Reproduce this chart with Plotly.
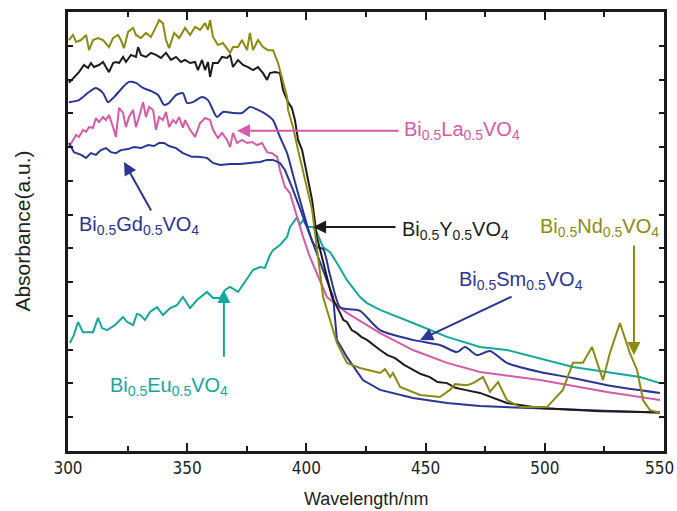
import plotly.graph_objects as go

# ---------------- data (wavelength nm, absorbance a.u.) ----------------
nd_x = [300.4, 302.1, 303.4, 305.5, 307.6, 308.8, 310.5, 312.6, 314.7, 315.9, 317.2, 318.9, 321.0, 322.2, 323.5,
        325.2, 327.3, 328.5, 330.6, 332.7, 334.8, 336.9, 338.2, 339.8, 341.1, 342.4, 344.5, 346.6, 349.1, 351.2,
        353.3, 355.4, 357.5, 358.7, 359.6, 360.8, 362.9, 365.0, 368.0, 369.2, 371.3, 373.0, 375.1, 376.3, 377.6,
        379.7, 381.8, 383.9, 386.0, 388.1, 390.2, 391.9, 392.3, 394.4, 396.5, 402.4, 407.0, 412.8, 417.0, 422.5,
        430.9, 433.0, 435.1, 436.3, 439.3, 447.7, 456.0, 460.2, 462.3, 467.4, 469.9, 474.1, 477.0, 480.4, 484.1,
        489.6, 500.9, 507.6, 511.8, 516.0, 519.8, 524.4, 527.3, 531.5, 535.7, 538.7, 541.2, 544.1, 548.3]
nd_y = [12.17, 12.32, 12.11, 12.17, 12.32, 11.87, 12.17, 12.23, 12.17, 12.08, 11.96, 12.23, 12.32, 12.17, 11.93,
        12.41, 12.53, 12.32, 12.23, 12.38, 12.26, 12.56, 12.76, 12.67, 12.17, 11.93, 12.38, 12.23, 12.53, 12.32,
        12.56, 12.47, 12.67, 12.47, 12.76, 12.26, 12.02, 12.08, 11.79, 11.96, 11.96, 12.17, 11.87, 12.38, 11.87,
        12.17, 11.96, 11.87, 11.87, 11.49, 10.90, 10.48, 10.10, 9.59, 8.91, 7.14, 4.56, 3.20, 2.61, 2.46,
        2.31, 2.43, 2.19, 2.31, 1.90, 1.66, 1.60, 1.81, 1.98, 1.95, 2.01, 2.19, 1.75, 2.04, 1.51,
        1.30, 1.30, 1.81, 2.61, 2.61, 3.08, 2.10, 2.90, 3.79, 2.90, 2.40, 1.51, 1.21, 1.13]

y_x = [300.4, 302.5, 304.6, 306.7, 308.4, 309.6, 310.9, 313.0, 314.7, 315.9, 317.2, 318.9, 320.1, 321.4, 323.1,
       324.3, 326.4, 328.5, 329.4, 330.6, 332.7, 334.8, 336.9, 339.0, 341.1, 343.2, 345.3, 347.4, 349.1, 351.2,
       353.3, 354.5, 356.2, 357.5, 358.7, 359.6, 360.8, 362.9, 364.6, 366.7, 368.0, 369.2, 371.3, 373.4, 375.5,
       377.6, 379.7, 381.8, 383.5, 384.7, 386.8, 388.9, 390.2, 392.3, 393.9, 395.2, 396.5, 398.2, 402.4, 404.4,
       410.7, 414.1, 415.5, 417.0, 419.0, 421.2, 423.0, 425.4, 428.0, 430.9, 434.0, 437.2, 441.0, 444.7, 448.0,
       451.8, 455.0, 459.0, 462.5, 466.5, 472.8, 484.1, 498.0, 523.2, 548.3]
y_y = [10.90, 11.05, 11.22, 11.43, 11.34, 11.49, 11.37, 11.43, 11.52, 11.37, 11.22, 11.49, 11.52, 11.49, 11.67,
       11.52, 11.73, 11.67, 11.96, 11.73, 11.67, 11.79, 11.73, 11.64, 11.79, 11.58, 11.67, 11.52, 11.58, 11.49,
       11.52, 11.28, 11.58, 11.28, 11.52, 11.08, 11.49, 11.49, 11.67, 11.64, 11.73, 11.37, 11.58, 11.43, 11.37,
       11.28, 11.37, 11.19, 10.99, 11.19, 11.22, 11.19, 10.69, 10.33, 10.16, 9.80, 9.21, 8.91, 7.43, 6.34,
       4.56, 4.09, 3.88, 3.82, 3.58, 3.49, 3.38, 3.29, 3.14, 2.99, 2.84, 2.75, 2.55, 2.40, 2.28,
       2.19, 2.04, 2.01, 1.87, 1.81, 1.72, 1.42, 1.27, 1.18, 1.15]

sm_x = [300.4, 304.6, 308.8, 311.7, 314.7, 316.8, 319.3, 323.1, 325.6, 328.5, 331.5, 334.8, 337.8, 340.3, 342.4,
        345.3, 348.2, 349.9, 352.4, 356.2, 358.7, 362.5, 365.0, 369.2, 373.0, 376.3, 379.7, 383.5, 386.0, 388.9,
        391.9, 394.4, 397.3, 402.8, 404.4, 407.0, 409.9, 414.1, 418.3, 422.5, 430.9, 444.7, 456.0, 463.2, 466.5,
        471.6, 477.0, 484.1, 498.0, 511.8, 526.1, 548.3]
sm_y = [10.33, 10.39, 10.63, 10.75, 10.60, 10.33, 10.48, 10.78, 10.93, 10.90, 10.75, 10.66, 10.54, 10.25, 10.31,
        10.54, 10.60, 10.31, 10.33, 10.48, 10.39, 9.89, 10.04, 10.01, 10.01, 10.19, 10.10, 9.95, 9.80, 9.30,
        8.82, 8.17, 7.43, 6.16, 6.04, 5.98, 5.21, 4.26, 4.20, 4.15, 3.58, 3.29, 3.14, 2.93, 3.08,
        2.84, 2.96, 2.61, 2.34, 2.16, 1.95, 1.72]

gd_x = [300.4, 302.5, 305.5, 307.6, 309.6, 311.7, 313.8, 315.9, 318.0, 320.1, 322.2, 325.2, 327.7, 330.6, 333.6,
        336.1, 338.2, 340.3, 342.4, 345.3, 348.2, 352.0, 354.5, 358.3, 360.8, 363.8, 368.0, 372.1, 376.3, 380.5,
        383.5, 386.0, 388.9, 391.0, 394.4, 402.8, 411.2, 412.8, 417.0, 423.7, 430.9, 444.7, 459.0, 472.8, 498.0,
        548.3]
gd_y = [9.12, 8.85, 8.77, 8.68, 8.82, 8.77, 8.91, 8.97, 8.85, 8.82, 8.91, 8.94, 9.00, 8.97, 9.06,
        9.03, 9.12, 9.12, 9.03, 8.97, 8.82, 8.71, 8.71, 8.68, 8.53, 8.47, 8.50, 8.50, 8.53, 8.56,
        8.62, 8.62, 8.53, 8.32, 7.73, 6.16, 4.56, 3.29, 2.78, 2.10, 1.81, 1.57, 1.42, 1.33, 1.27,
        1.13]

la_x = [300.4, 302.1, 303.4, 304.6, 306.3, 307.6, 308.8, 310.5, 311.7, 313.0, 314.7, 315.9, 317.2, 318.9, 320.1,
        321.4, 323.1, 324.3, 325.6, 327.3, 328.5, 329.8, 331.5, 332.7, 334.0, 335.7, 336.9, 338.2, 339.8, 341.1,
        342.4, 344.0, 345.3, 346.6, 348.2, 349.1, 351.2, 353.3, 355.4, 357.5, 359.6, 360.8, 362.9, 364.6, 366.7,
        368.0, 369.2, 370.9, 373.0, 375.1, 377.2, 379.3, 381.4, 383.5, 385.6, 387.7, 388.9, 391.0, 393.1, 396.1,
        398.6, 401.5, 408.6, 417.0, 430.9, 444.7, 459.0, 472.8, 498.0, 526.1, 548.3]
la_y = [9.00, 9.21, 9.36, 9.30, 9.51, 9.45, 9.59, 9.57, 9.86, 9.74, 9.89, 9.80, 9.95, 9.59, 9.30,
        10.16, 10.01, 9.59, 9.89, 10.10, 9.59, 9.89, 10.33, 9.89, 10.19, 10.10, 9.51, 9.89, 9.80, 10.04,
        9.59, 9.80, 9.71, 9.89, 9.57, 9.80, 9.51, 9.30, 9.71, 9.86, 9.80, 9.51, 9.27, 9.42, 9.21,
        9.00, 9.42, 9.12, 9.21, 9.12, 9.15, 9.06, 9.12, 8.85, 8.82, 8.71, 8.32, 7.82, 7.64, 6.93,
        6.34, 5.74, 4.56, 4.09, 3.49, 2.99, 2.61, 2.34, 2.10, 1.75, 1.51]

eu_x = [300.8, 302.5, 304.2, 306.3, 310.5, 312.6, 314.3, 316.4, 319.7, 323.1, 324.8, 327.3, 328.9, 330.2, 332.3,
        334.4, 337.3, 339.8, 342.8, 345.7, 348.2, 351.2, 354.1, 358.3, 360.8, 363.8, 365.9, 368.0, 371.3, 374.2,
        377.6, 380.5, 382.6, 384.7, 386.0, 388.9, 391.9, 393.1, 394.8, 396.1, 397.3, 398.6, 400.3, 402.8, 404.4,
        407.0, 409.9, 412.8, 417.0, 422.5, 425.4, 430.9, 444.7, 459.0, 472.8, 484.1, 511.8, 539.9, 548.3]
eu_y = [3.20, 3.44, 3.82, 3.52, 3.52, 3.94, 3.64, 3.58, 3.73, 3.97, 3.82, 3.73, 4.06, 4.03, 3.88,
        4.12, 4.26, 4.03, 4.23, 4.32, 4.56, 4.23, 4.47, 4.71, 4.53, 4.53, 4.77, 4.86, 4.71, 5.00,
        5.36, 5.45, 5.42, 5.80, 5.95, 6.10, 6.34, 6.63, 6.78, 6.93, 6.69, 6.84, 6.63, 6.63, 6.46,
        6.04, 5.89, 5.57, 5.06, 4.56, 4.38, 4.18, 3.79, 3.38, 3.08, 2.99, 2.49, 2.19, 2.01]

x_ticks = [300, 350, 400, 450, 500, 550]
x_tick_labels = ["300", "350", "400", "450", "500", "550"]

C_ND = "#8c8a10"
C_Y = "#1c1c1c"
C_BLUE = "#2b3593"
C_LA = "#d45ba6"
C_EU = "#14a89b"

fig = go.Figure()
for xs, ys, c, shape in [(eu_x, eu_y, C_EU, "linear"), (la_x, la_y, C_LA, "linear"),
                         (gd_x, gd_y, C_BLUE, "linear"), (sm_x, sm_y, C_BLUE, "spline"),
                         (y_x, y_y, C_Y, "linear"), (nd_x, nd_y, C_ND, "linear")]:
    line = dict(color=c, width=2, shape=shape)
    if shape == "spline":
        line["smoothing"] = 0.7
    fig.add_trace(go.Scatter(x=xs, y=ys, mode="lines", line=line,
                             showlegend=False, hoverinfo="skip"))

FONT = "Liberation Sans, Arial, sans-serif"
NARROW = "Liberation Sans Narrow, DejaVu Sans Condensed, Liberation Sans, Arial, sans-serif"

labels = [
    # text, color, text x, text y, arrow tail (ax, ay), arrow head (x, y)
    ("Bi<sub>0.5</sub>La<sub>0.5</sub>VO<sub>4</sub>", C_LA, 440.1, 9.48, (439.3, 9.48), (370.9, 9.48)),
    ("Bi<sub>0.5</sub>Y<sub>0.5</sub>VO<sub>4</sub>", C_Y, 439.3, 6.54, (438.0, 6.63), (402.8, 6.63)),
    ("Bi<sub>0.5</sub>Nd<sub>0.5</sub>VO<sub>4</sub>", C_ND, 497.2, 6.62, (537.4, 6.13), (537.4, 2.84)),
    ("Bi<sub>0.5</sub>Sm<sub>0.5</sub>VO<sub>4</sub>", C_BLUE, 463.2, 5.05, (486.7, 4.59), (447.7, 3.29)),
    ("Bi<sub>0.5</sub>Gd<sub>0.5</sub>VO<sub>4</sub>", C_BLUE, 303.8, 6.68, (335.2, 7.08), (323.5, 8.56)),
    ("Bi<sub>0.5</sub>Eu<sub>0.5</sub>VO<sub>4</sub>", C_EU, 316.8, 1.91, (365.4, 2.75), (365.4, 4.77)),
]
for txt, col, tx, ty, tail, head in labels:
    fig.add_annotation(x=tx, y=ty, xref="x", yref="y", text=txt, showarrow=False,
                       xanchor="left", yanchor="middle",
                       font=dict(family=FONT, size=20, color=col))
    fig.add_annotation(x=head[0], y=head[1], ax=tail[0], ay=tail[1], xref="x", yref="y",
                       axref="x", ayref="y", text="", showarrow=True, arrowhead=2,
                       arrowsize=1.3, arrowwidth=2, arrowcolor=col, standoff=0, startstandoff=0)

# the last tick label sits at the right edge of the page: draw it right-aligned so it stays whole
fig.add_annotation(text=x_tick_labels[-1], xref="paper", yref="paper", x=1.0195, y=-0.039,
                   showarrow=False, xanchor="right", yanchor="middle",
                   font=dict(family=NARROW, size=17, color="#222"))

fig.add_annotation(text="Absorbance(a.u.)", xref="paper", yref="paper", x=-0.077, y=0.5,
                   textangle=-90, showarrow=False, xanchor="center", yanchor="middle",
                   font=dict(family=FONT, size=21, color="#222"))
fig.add_annotation(text="Wavelength/nm", xref="paper", yref="paper", x=0.5, y=-0.11,
                   showarrow=False, xanchor="center", yanchor="middle",
                   font=dict(family=FONT, size=18, color="#222"))

fig.update_layout(
    width=677, height=511,
    margin=dict(l=68, r=13, t=12, b=60),
    paper_bgcolor="white", plot_bgcolor="white",
    font=dict(family=FONT, size=16, color="#222"),
    xaxis=dict(range=[300, 550], tickvals=x_ticks, ticktext=x_tick_labels[:-1] + [""],
               ticks="inside", ticklen=8, tickwidth=2, tickcolor="#1a1a1a",
               minor=dict(dtick=25, ticks="inside", ticklen=5, tickwidth=2, tickcolor="#1a1a1a"),
               showline=True, linewidth=3, linecolor="#1a1a1a", mirror="ticks",
               showgrid=False, zeroline=False, automargin=False, ticklabeloverflow="allow",
               tickfont=dict(size=17, family=NARROW, color="#222")),
    yaxis=dict(range=[0, 13], dtick=1, showticklabels=False,
               ticks="inside", ticklen=5, tickwidth=2, tickcolor="#1a1a1a",
               showline=True, linewidth=3, linecolor="#1a1a1a", mirror="ticks",
               showgrid=False, zeroline=False, automargin=False),
)

fig.write_html("out.html")
